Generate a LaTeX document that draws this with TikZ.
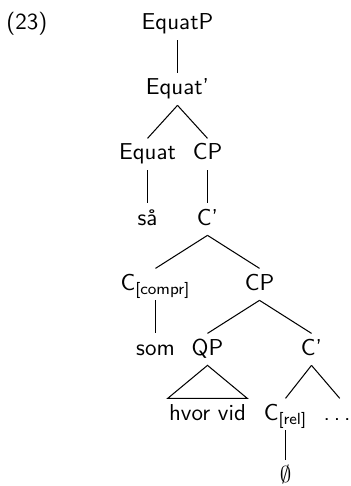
\documentclass[tikz,border=0pt]{standalone}
\usepackage{amsmath}
\begin{document}
\begin{tikzpicture}[x=0.4348pt,y=-0.4348pt,
  lbl/.style={font=\sffamily\fontsize{10}{12}\selectfont, inner sep=2.3pt, text height=6.9pt, text depth=2pt, anchor=base},
  edge/.style={line width=0.45pt}]
\useasboundingbox (0,0) rectangle (351,486);
\node[font=\sffamily\fontsize{10}{12}\selectfont, inner sep=0pt, anchor=base west] (ex) at (6,30) {(23)};
\node[lbl] (equatp) at (177.5,30) {EquatP};
\node[lbl] (equatbar) at (177.5,95) {Equat'};
\node[lbl] (equat) at (147.5,160) {Equat};
\node[lbl] (cp1) at (207.5,160) {CP};
\node[lbl] (saa) at (147.5,225) {så};
\node[lbl] (cbar1) at (207.5,225) {C'};
\node[lbl] (ccompr) at (155.5,290) {C$_{\text{[compr]}}$};
\node[lbl] (cp2) at (259.5,290) {CP};
\node[lbl] (som) at (155.5,355) {som};
\node[lbl] (qp) at (207.5,355) {QP};
\node[lbl] (cbar2) at (311.5,355) {C'};
\node[lbl, inner xsep=0.4pt] (hv) at (207.5,420) {hvor vid};
\node[lbl] (crel) at (285.5,420) {C$_{\text{[rel]}}$};
\node[lbl, inner xsep=0pt] (dots) at (337,420) {.\hspace{1.7pt}.\hspace{1.7pt}.};
\node[lbl] (empty) at (285.5,482) {$\emptyset$};
\draw[edge] (equatp.south) -- (equatbar.north);
\draw[edge] (equatbar.south) -- (equat.north);
\draw[edge] (equatbar.south) -- (cp1.north);
\draw[edge] (equat.south) -- (saa.north);
\draw[edge] (cp1.south) -- (cbar1.north);
\draw[edge] (cbar1.south) -- (ccompr.north);
\draw[edge] (cbar1.south) -- (cp2.north);
\draw[edge] (ccompr.south) -- (som.north);
\draw[edge] (cp2.south) -- (qp.north);
\draw[edge] (cp2.south) -- (cbar2.north);
\draw[edge] (qp.south) -- (hv.north west) -- (hv.north east) -- cycle;
\draw[edge] (cbar2.south) -- (crel.north);
\draw[edge] (cbar2.south) -- ([xshift=1.2pt]dots.north);
\draw[edge] (crel.south) -- (empty.north);
\end{tikzpicture}
\end{document}
